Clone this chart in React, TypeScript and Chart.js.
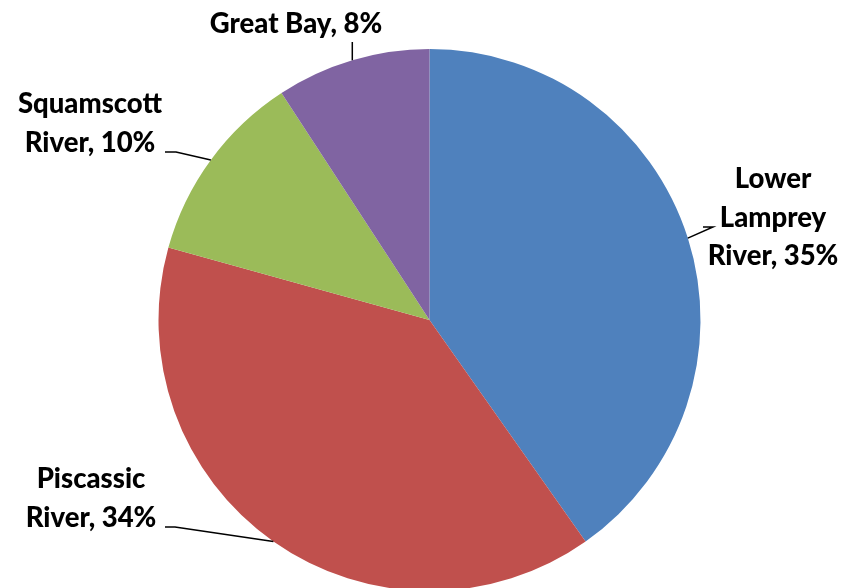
import React, { useEffect, useRef } from "react";
import { Chart, registerables } from "chart.js";

Chart.register(...registerables);

const categories = ["Lower Lamprey River", "Piscassic River", "Squamscott River", "Great Bay"];
const values = [35, 34, 10, 8];
const labelLines = [["Lower", "Lamprey", "River"], ["Piscassic", "River"], ["Squamscott", "River"], ["Great Bay"]];
const colors = ["#4F81BD", "#C0504D", "#9BBB59", "#8064A2"];

// label layout (text centre x, first baseline y, leader elbow, leader end)
const layout = [
  { x: 773, y: 188, elbow: [713, 227], end: [703, 227] },
  { x: 91, y: 488, elbow: [175, 527], end: [165, 527] },
  { x: 90, y: 113, elbow: [176, 152], end: [165, 152] },
  { x: 296, y: 33, elbow: null, end: [0, 42] },
];

const labelPlugin = {
  id: "outsideLabels",
  afterDatasetsDraw(chart: any) {
    const ctx = chart.ctx;
    const meta = chart.getDatasetMeta(0);
    ctx.save();
    meta.data.forEach((arc: any, i: number) => {
      const p = arc.getProps(["x", "y", "startAngle", "endAngle", "outerRadius"], true);
      const mid = (p.startAngle + p.endAngle) / 2;
      const sx = p.x + Math.cos(mid) * p.outerRadius;
      const sy = p.y + Math.sin(mid) * p.outerRadius;
      const L = layout[i];
      ctx.strokeStyle = "#000";
      ctx.lineWidth = 1.5;
      ctx.beginPath();
      ctx.moveTo(sx, sy);
      if (L.elbow) {
        ctx.lineTo(L.elbow[0], L.elbow[1]);
        ctx.lineTo(L.end[0], L.end[1]);
      } else {
        ctx.lineTo(sx, L.end[1]);
      }
      ctx.stroke();
      const lines = labelLines[i].slice();
      lines[lines.length - 1] = lines[lines.length - 1] + ", " + values[i] + "%";
      ctx.fillStyle = "#000";
      ctx.font = "900 27.5px Lato";
      ctx.textAlign = "center";
      ctx.textBaseline = "alphabetic";
      lines.forEach((t, j) => ctx.fillText(t, L.x, L.y + j * 38.5));
    });
    ctx.restore();
  },
};

export default function App() {
  const ref = useRef<HTMLCanvasElement>(null);
  useEffect(() => {
    if (!ref.current) return;
    const chart = new Chart(ref.current, {
      type: "pie",
      data: {
        labels: categories,
        datasets: [
          {
            data: values,
            backgroundColor: colors,
            borderWidth: 0,
          },
        ],
      },
      options: {
        responsive: false,
        animation: false,
        radius: 271,
        layout: { padding: { left: 15, right: 0, top: 52, bottom: 0 } },
        plugins: { legend: { display: false }, tooltip: { enabled: false } },
      } as any,
      plugins: [labelPlugin],
    });
    return () => chart.destroy();
  }, []);
  return (
    <div style={{ position: "fixed", left: 0, top: 0, width: 844, height: 588, background: "#fff" }}>
      <canvas ref={ref} width={844} height={588} style={{ display: "block" }} />
    </div>
  );
}
